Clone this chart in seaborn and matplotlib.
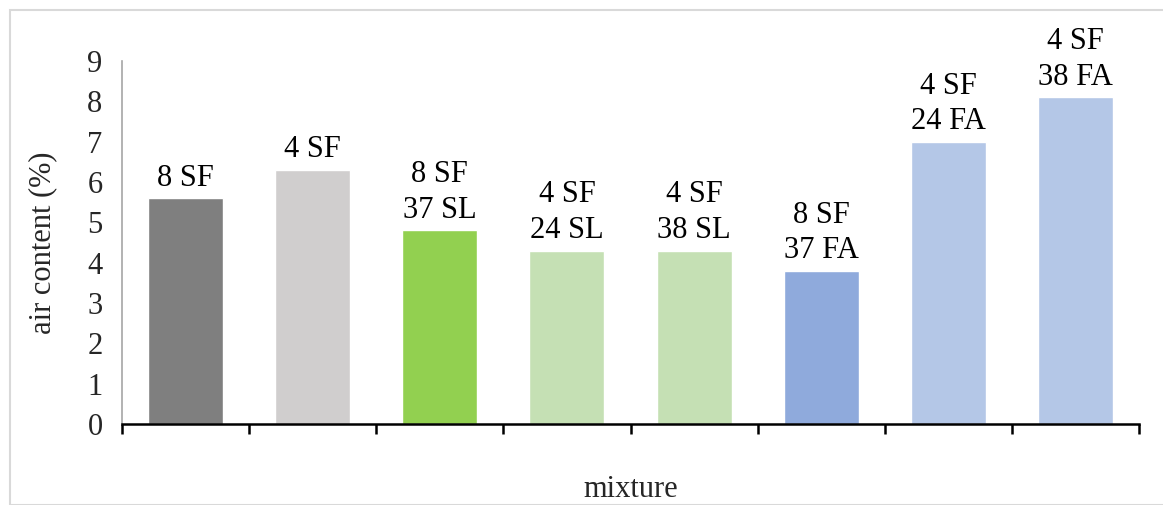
import matplotlib
matplotlib.use("Agg")
import matplotlib.pyplot as plt
import seaborn as sns
import numpy as np
from matplotlib.patches import Rectangle

categories = ["8 SF", "4 SF", "8 SF\n37 SL", "4 SF\n24 SL", "4 SF\n38 SL", "8 SF\n37 FA", "4 SF\n24 FA", "4 SF\n38 FA"]
values = [5.6, 6.3, 4.8, 4.3, 4.3, 3.8, 7.0, 8.1]
colors = ["#7f7f7f", "#d0cece", "#92d050", "#c5e0b4", "#c5e0b4", "#8faadc", "#b4c7e7", "#b4c7e7"]
yticks = list(range(0, 10))

sns.set_theme(style="white")
plt.rcParams["font.family"] = ["Liberation Serif", "DejaVu Serif"]

fig = plt.figure(figsize=(11.63, 5.05), dpi=100)
fig.patches.append(Rectangle((10/1163, 0), 1.0, 1 - 10/505, transform=fig.transFigure,
                             fill=False, edgecolor="#d9d9d9", linewidth=1.5, zorder=0))
ax = fig.add_axes([122/1163, 1 - 424/505, (1139 - 122)/1163, (424 - 61)/505])

sns.barplot(x=categories, y=values, hue=categories, palette=colors, legend=False,
            width=0.59, saturation=1, ax=ax)

for i, (lab, v) in enumerate(zip(categories, values)):
    ax.annotate(lab, (i, v), xytext=(0, 4), textcoords="offset points",
                ha="center", va="bottom", fontsize=22, linespacing=1.3, color="black")

ax.set_xlim(-0.5, len(categories) - 0.5)
ax.set_ylim(0, 9)
ax.set_yticks(yticks)
ax.set_yticklabels([str(t) for t in yticks], fontsize=22)
ax.set_xticks(np.arange(-0.5, len(categories), 1.0))
ax.set_xticklabels([])
ax.tick_params(axis="x", length=7, width=1.8, color="black", direction="out", bottom=True)
ax.tick_params(axis="y", length=0, pad=14)

for s in ["top", "right"]:
    ax.spines[s].set_visible(False)
ax.spines["left"].set_color("#a6a6a6")
ax.spines["left"].set_linewidth(1.2)
ax.spines["bottom"].set_color("black")
ax.spines["bottom"].set_linewidth(1.8)

ax.set_ylabel("air content (%)", fontsize=22, labelpad=22)
ax.set_xlabel("mixture", fontsize=22, labelpad=26)
ax.set_facecolor("white")

fig.savefig("out.png", dpi=100, facecolor="white")
